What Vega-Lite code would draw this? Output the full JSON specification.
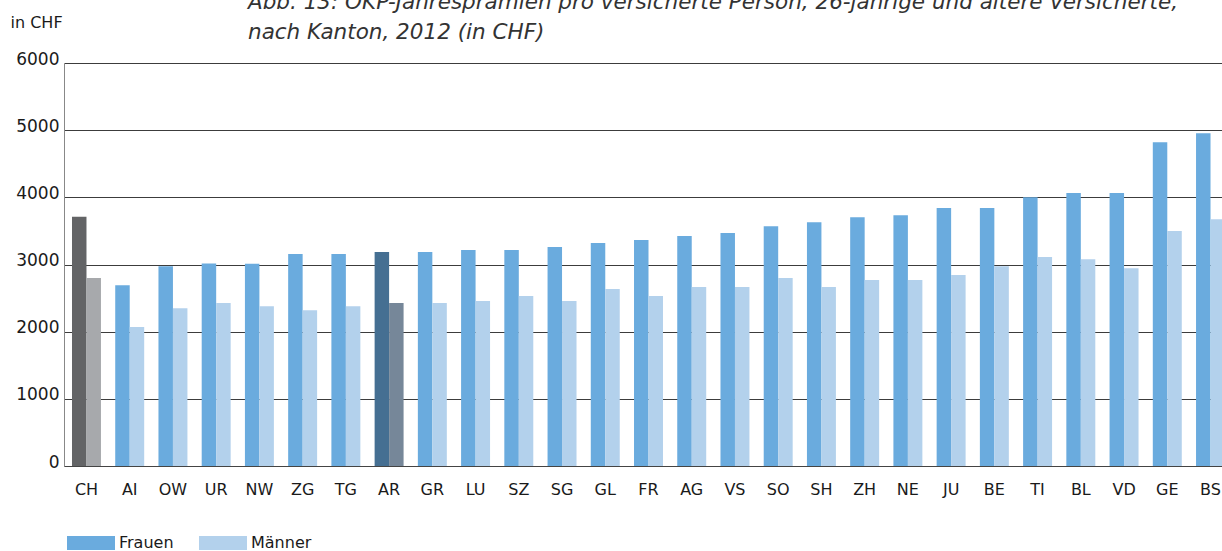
{
  "$schema": "https://vega.github.io/schema/vega-lite/v6.json",
  "autosize": {"type": "none"},
  "padding": {"left": 64, "top": 63, "right": 0, "bottom": 85},
  "width": 1158,
  "height": 403,
  "background": "white",
  "config": {"font": "DejaVu Sans", "view": {"stroke": null}},
  "title": {
    "text": ["Abb. 13: OKP-Jahresprämien pro versicherte Person, 26-jährige und ältere Versicherte,", "nach Kanton, 2012 (in CHF)"],
    "anchor": "start", "frame": "group", "dx": 184, "fontStyle": "italic", "fontWeight": "normal",
    "fontSize": 21.5, "color": "#333333", "lineHeight": 30, "offset": -29, "font": "DejaVu Sans"
  },
  "data": {"values": [
    {"Kanton": "CH", "Geschlecht": "Frauen", "Praemie": 3710}, {"Kanton": "CH", "Geschlecht": "Männer", "Praemie": 2800},
    {"Kanton": "AI", "Geschlecht": "Frauen", "Praemie": 2690}, {"Kanton": "AI", "Geschlecht": "Männer", "Praemie": 2070},
    {"Kanton": "OW", "Geschlecht": "Frauen", "Praemie": 2975}, {"Kanton": "OW", "Geschlecht": "Männer", "Praemie": 2350},
    {"Kanton": "UR", "Geschlecht": "Frauen", "Praemie": 3015}, {"Kanton": "UR", "Geschlecht": "Männer", "Praemie": 2425},
    {"Kanton": "NW", "Geschlecht": "Frauen", "Praemie": 3010}, {"Kanton": "NW", "Geschlecht": "Männer", "Praemie": 2380},
    {"Kanton": "ZG", "Geschlecht": "Frauen", "Praemie": 3155}, {"Kanton": "ZG", "Geschlecht": "Männer", "Praemie": 2320},
    {"Kanton": "TG", "Geschlecht": "Frauen", "Praemie": 3155}, {"Kanton": "TG", "Geschlecht": "Männer", "Praemie": 2380},
    {"Kanton": "AR", "Geschlecht": "Frauen", "Praemie": 3185}, {"Kanton": "AR", "Geschlecht": "Männer", "Praemie": 2425},
    {"Kanton": "GR", "Geschlecht": "Frauen", "Praemie": 3185}, {"Kanton": "GR", "Geschlecht": "Männer", "Praemie": 2425},
    {"Kanton": "LU", "Geschlecht": "Frauen", "Praemie": 3215}, {"Kanton": "LU", "Geschlecht": "Männer", "Praemie": 2455},
    {"Kanton": "SZ", "Geschlecht": "Frauen", "Praemie": 3215}, {"Kanton": "SZ", "Geschlecht": "Männer", "Praemie": 2530},
    {"Kanton": "SG", "Geschlecht": "Frauen", "Praemie": 3260}, {"Kanton": "SG", "Geschlecht": "Männer", "Praemie": 2455},
    {"Kanton": "GL", "Geschlecht": "Frauen", "Praemie": 3320}, {"Kanton": "GL", "Geschlecht": "Männer", "Praemie": 2635},
    {"Kanton": "FR", "Geschlecht": "Frauen", "Praemie": 3365}, {"Kanton": "FR", "Geschlecht": "Männer", "Praemie": 2530},
    {"Kanton": "AG", "Geschlecht": "Frauen", "Praemie": 3425}, {"Kanton": "AG", "Geschlecht": "Männer", "Praemie": 2665},
    {"Kanton": "VS", "Geschlecht": "Frauen", "Praemie": 3470}, {"Kanton": "VS", "Geschlecht": "Männer", "Praemie": 2665},
    {"Kanton": "SO", "Geschlecht": "Frauen", "Praemie": 3570}, {"Kanton": "SO", "Geschlecht": "Männer", "Praemie": 2800},
    {"Kanton": "SH", "Geschlecht": "Frauen", "Praemie": 3630}, {"Kanton": "SH", "Geschlecht": "Männer", "Praemie": 2665},
    {"Kanton": "ZH", "Geschlecht": "Frauen", "Praemie": 3705}, {"Kanton": "ZH", "Geschlecht": "Männer", "Praemie": 2770},
    {"Kanton": "NE", "Geschlecht": "Frauen", "Praemie": 3735}, {"Kanton": "NE", "Geschlecht": "Männer", "Praemie": 2770},
    {"Kanton": "JU", "Geschlecht": "Frauen", "Praemie": 3840}, {"Kanton": "JU", "Geschlecht": "Männer", "Praemie": 2845},
    {"Kanton": "BE", "Geschlecht": "Frauen", "Praemie": 3840}, {"Kanton": "BE", "Geschlecht": "Männer", "Praemie": 2975},
    {"Kanton": "TI", "Geschlecht": "Frauen", "Praemie": 4000}, {"Kanton": "TI", "Geschlecht": "Männer", "Praemie": 3110},
    {"Kanton": "BL", "Geschlecht": "Frauen", "Praemie": 4065}, {"Kanton": "BL", "Geschlecht": "Männer", "Praemie": 3080},
    {"Kanton": "VD", "Geschlecht": "Frauen", "Praemie": 4065}, {"Kanton": "VD", "Geschlecht": "Männer", "Praemie": 2945},
    {"Kanton": "GE", "Geschlecht": "Frauen", "Praemie": 4820}, {"Kanton": "GE", "Geschlecht": "Männer", "Praemie": 3500},
    {"Kanton": "BS", "Geschlecht": "Frauen", "Praemie": 4955}, {"Kanton": "BS", "Geschlecht": "Männer", "Praemie": 3675}
  ]},
  "mark": {"type": "bar"},
  "encoding": {
    "x": {
      "field": "Kanton", "type": "nominal", "sort": null,
      "scale": {"range": [0, 1169], "paddingInner": 0.33, "paddingOuter": 0.185},
      "axis": {"title": null, "labelAngle": 0, "labelFontSize": 16, "labelColor": "#1a1a1a", "labelPadding": 15,
               "ticks": false, "domainColor": "#444444", "domainWidth": 1.2}
    },
    "xOffset": {"field": "Geschlecht", "type": "nominal", "scale": {"paddingInner": 0, "paddingOuter": 0}},
    "y": {
      "field": "Praemie", "type": "quantitative",
      "scale": {"domain": [0, 6000], "nice": false},
      "axis": {"values": [0, 1000, 2000, 3000, 4000, 5000, 6000], "format": "d", "ticks": false,
               "labelFontSize": 17, "labelColor": "#1a1a1a", "labelPadding": 5, "labelBaseline": "alphabetic",
               "labelOffset": 1, "gridColor": "#3c3c3c", "gridWidth": 1.2, "domainColor": "#888888", "domainWidth": 1,
               "title": "in CHF", "titleAngle": 0, "titleX": -54, "titleY": -36, "titleAlign": "left",
               "titleBaseline": "alphabetic", "titleFontSize": 16, "titleFontWeight": "normal", "titleColor": "#1a1a1a"}
    },
    "color": {
      "field": "Geschlecht", "type": "nominal",
      "scale": {"domain": ["Frauen", "Männer"], "range": ["#6aabde", "#b3d1ec"]},
      "condition": [
        {"test": "datum.Kanton === 'CH' && datum.Geschlecht === 'Frauen'", "value": "#636466"},
        {"test": "datum.Kanton === 'CH' && datum.Geschlecht === 'Männer'", "value": "#a7a9ac"},
        {"test": "datum.Kanton === 'AR' && datum.Geschlecht === 'Frauen'", "value": "#456f92"},
        {"test": "datum.Kanton === 'AR' && datum.Geschlecht === 'Männer'", "value": "#768799"}
      ],
      "legend": {"orient": "none", "legendX": 3, "legendY": 456, "padding": 0, "direction": "horizontal", "columns": 2,
                 "title": null, "symbolType": "M-1,-0.29H1V0.29H-1Z", "symbolSize": 2304, "symbolStrokeWidth": 0,
                 "labelFontSize": 16, "labelColor": "#1a1a1a", "labelOffset": 4, "columnPadding": 25}
    }
  }
}
